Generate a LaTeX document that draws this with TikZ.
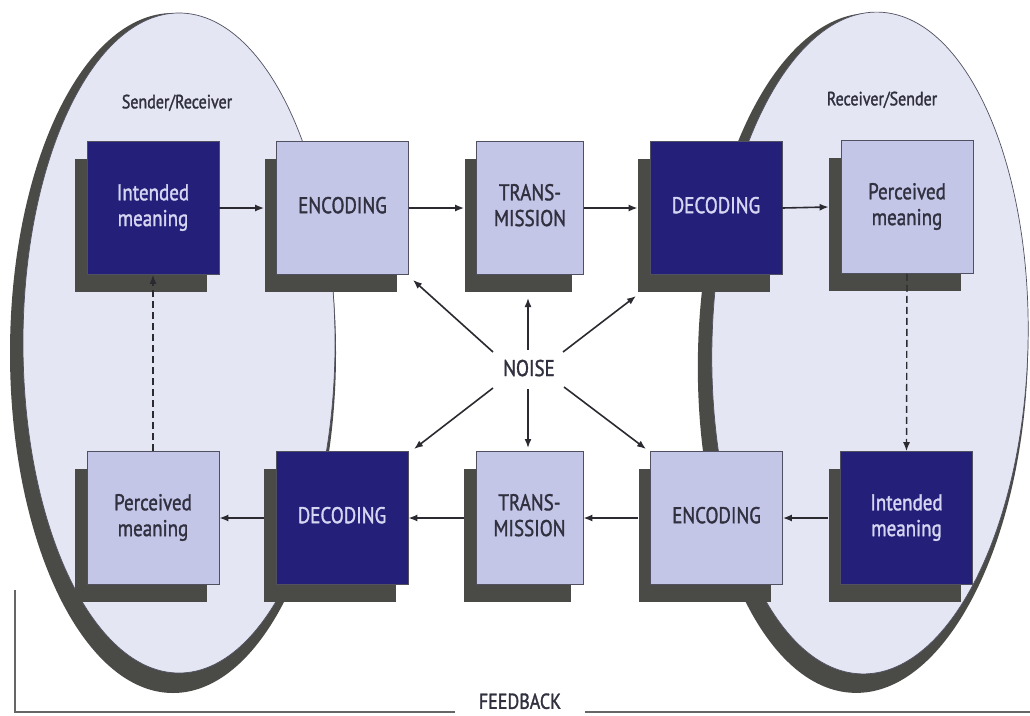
\documentclass[tikz,border=0pt]{standalone}
\usepackage{fontspec}
\setmainfont{PT Sans}
\newfontfamily\boxfont{PT Sans}[FakeBold=1.6]
\usepackage{graphicx}
\usetikzlibrary{arrows.meta,shadows}

\definecolor{navy}{HTML}{24207A}
\definecolor{lilac}{HTML}{C4C6E8}
\definecolor{pale}{HTML}{E4E6F4}
\definecolor{shadowc}{HTML}{4A4A47}
\definecolor{lighttxt}{HTML}{D6D6F2}
\definecolor{darktxt}{HTML}{30303F}
\definecolor{edgec}{HTML}{505060}
\definecolor{arrc}{HTML}{2A2A30}

\newcommand\stx[1]{\scalebox{1}[1.2]{\begin{tabular}{@{}c@{}}#1\end{tabular}}}

\begin{document}
\begin{tikzpicture}[x=1pt,y=-1pt,
  box/.style={rectangle, minimum width=132pt, minimum height=133pt, inner sep=0pt,
    draw=edgec, line width=0.7pt,
    font=\boxfont\fontsize{19}{21.5}\selectfont,
    drop shadow={shadow xshift=-12pt, shadow yshift=-17pt, fill=shadowc, opacity=1}},
  darkbox/.style={box, fill=navy, text=lighttxt},
  lightbox/.style={box, fill=lilac, text=darktxt},
  narrowbox/.style={minimum width=107pt},
  lbl/.style={text=darktxt, font=\boxfont\fontsize{16}{18}\selectfont, inner sep=0pt},
  arr/.style={draw=arrc, line width=1.6pt, -{Latex[length=9pt,width=7pt]}},
  dasharr/.style={arr, line width=1.4pt, dash pattern=on 7pt off 4pt},
  fbline/.style={draw=black!60, line width=1.2pt}
]
\useasboundingbox (0,0) rectangle (1030,715);

% ellipses
\fill[shadowc] (173,353) ellipse [x radius=163, y radius=340];
\filldraw[fill=pale, draw=edgec, line width=0.7pt] (179,343) ellipse [x radius=156, y radius=330];
\fill[shadowc, rotate around={-1.5:(863,353)}] (863,353) ellipse [x radius=165, y radius=340];
\filldraw[fill=pale, draw=edgec, line width=0.7pt, rotate around={-1.5:(870,343)}] (870,343) ellipse [x radius=158, y radius=331];

\node[lbl] (sr) at (177,104) {\stx{Sender/Receiver}};
\node[lbl] (rs) at (882,101) {\stx{Receiver/Sender}};

% top row
\node[darkbox]  (im1) at (153,208)   {\stx{Intended\\meaning}};
\node[lightbox] (enc1) at (342.5,208) {\stx{ENCODING}};
\node[lightbox, narrowbox] (tr1) at (530,208) {\stx{TRANS-\\MISSION}};
\node[darkbox]  (dec1) at (716,208)  {\stx{DECODING}};
\node[lightbox] (pm1) at (907,207)   {\stx{Perceived\\meaning}};

% bottom row
\node[lightbox] (pm2) at (153,518)   {\stx{Perceived\\meaning}};
\node[darkbox]  (dec2) at (342,518)  {\stx{DECODING}};
\node[lightbox, narrowbox] (tr2) at (529.5,518) {\stx{TRANS-\\MISSION}};
\node[lightbox] (enc2) at (716.5,518) {\stx{ENCODING}};
\node[darkbox]  (im2) at (906.5,518) {\stx{Intended\\meaning}};

% top arrows
\draw[arr] (im1.east) -- ([xshift=-12pt]enc1.west);
\draw[arr] (enc1.east) -- ([xshift=-12pt]tr1.west);
\draw[arr] (tr1.east) -- ([xshift=-12pt]dec1.west);
\draw[arr] (dec1.east) -- ([xshift=-12pt]pm1.west);

% bottom arrows
\draw[arr] ([xshift=-12pt]im2.west) -- (enc2.east);
\draw[arr] ([xshift=-12pt]enc2.west) -- (tr2.east);
\draw[arr] ([xshift=-12pt]tr2.west) -- (dec2.east);
\draw[arr] ([xshift=-12pt]dec2.west) -- (pm2.east);

% dashed feedback loops
\draw[dasharr] (pm2.north) -- (im1.south);
\draw[dasharr] (pm1.south) -- (im2.north);

% noise
\node[text=darktxt, font=\boxfont\fontsize{19}{21}\selectfont, inner sep=0pt] (noise) at (529,371) {\stx{NOISE}};
\coordinate (s1) at (493,352); \coordinate (t1) at (413,280);
\coordinate (s2) at (528,350); \coordinate (t2) at (528,298);
\coordinate (s3) at (563,352); \coordinate (t3) at (636,296);
\coordinate (s4) at (493,388); \coordinate (t4) at (414,449);
\coordinate (s5) at (528,389); \coordinate (t5) at (528,448);
\coordinate (s6) at (564,387); \coordinate (t6) at (646,449);
\foreach \i in {1,...,6} { \draw[arr] (s\i) -- (t\i); }

% feedback
\node[text=darktxt, font=\boxfont\fontsize{18}{20}\selectfont, inner sep=0pt] (fb) at (520,704) {\stx{FEEDBACK}};
\coordinate (fbtop) at (15,590);
\coordinate (fbL) at (455,712);
\coordinate (fbR) at (585,712);
\coordinate (fbend) at (1030,712);
\draw[fbline] (fbtop) |- (fbL);
\draw[fbline] (fbR) -- (fbend);
\end{tikzpicture}
\end{document}
